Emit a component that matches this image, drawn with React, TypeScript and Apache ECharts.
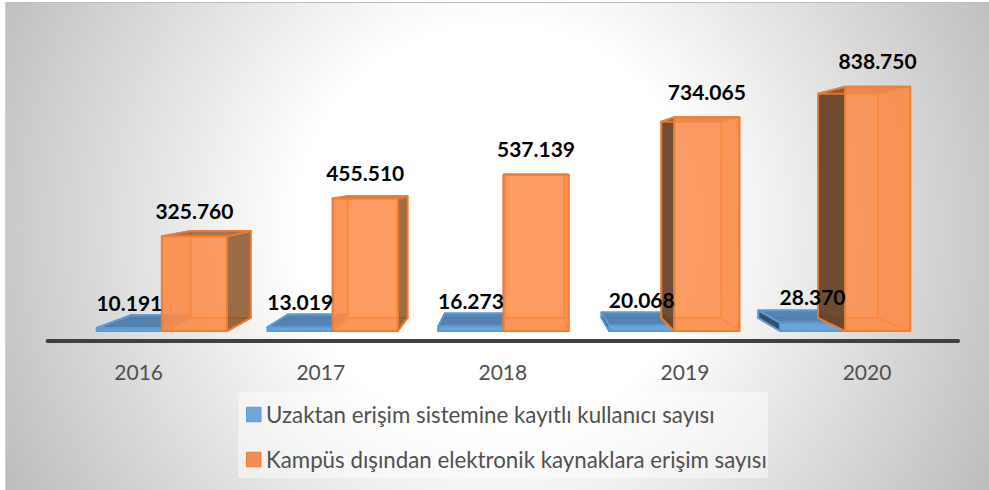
import React, { useEffect, useRef } from "react";
import * as echarts from "echarts";

const categories = ["2016", "2017", "2018", "2019", "2020"];
const remoteUsers = [10191, 13019, 16273, 20068, 28370];
const campusAccess = [325760, 455510, 537139, 734065, 838750];
const nameRemote = "Uzaktan erişim sistemine kayıtlı kullanıcı sayısı";
const nameCampus = "Kampüs dışından elektronik kaynaklara erişim sayısı";
const FONT = "Lato, Carlito, 'Noto Sans', sans-serif";

const VX = 516;
const VY = 172;
const DEPTH = 0.918;
const BAR_RATIO = 0.381;

const project = (p: number[]) => [VX + (p[0] - VX) * DEPTH, VY + (p[1] - VY) * DEPTH];
const fmt = (v: number) => String(v).replace(/\B(?=(\d{3})+$)/g, ".");

type Skin = { front: string; edge: string; back: string; leftWall: string; rightWall: string; top: string; bottom: string };
const orangeSkin: Skin = {
  front: "rgba(253,140,72,0.80)",
  edge: "rgba(237,125,49,0.88)",
  back: "rgba(250,128,50,0.30)",
  leftWall: "rgba(96,62,38,0.90)",
  rightWall: "rgba(130,78,38,0.78)",
  top: "rgba(150,88,44,0.78)",
  bottom: "rgba(237,125,49,0.50)",
};
const blueSkin: Skin = {
  front: "rgba(100,163,220,0.90)",
  edge: "rgba(91,155,213,1)",
  back: "rgba(91,155,213,0.4)",
  leftWall: "rgba(44,68,96,0.92)",
  rightWall: "rgba(70,110,150,0.85)",
  top: "rgba(78,125,170,0.92)",
  bottom: "rgba(91,155,213,0.5)",
};

const barGeom = (api: any, side: number) => {
  const base = api.coord([api.value(0), 0]);
  const top = api.coord([api.value(0), api.value(1)]);
  const w = api.size([1, 0])[0] * BAR_RATIO;
  const l = side < 0 ? base[0] - w : base[0];
  return { l, r: l + w, t: top[1], b: base[1] };
};

const boxItem = (skin: Skin, side: number) => (_p: any, api: any) => {
  const { l, r, t, b } = barGeom(api, side);
  const fl = [l, t], fr = [r, t], br = [r, b], bl = [l, b];
  const kl = project(fl), kr = project(fr), kbr = project(br), kbl = project(bl);
  const face = (pts: number[][], fill: string, w = 2) => ({
    type: "polygon",
    shape: { points: pts },
    style: { fill, stroke: skin.edge, lineWidth: w, lineJoin: "round" },
  });
  const children: any[] = [
    face([kl, kr, kbr, kbl], skin.back),
    face([bl, br, kbr, kbl], skin.bottom),
  ];
  if (l < kl[0]) children.push(face([fl, kl, kbl, bl], skin.bottom));
  if (l > kl[0]) children.push(face([kl, fl, bl, kbl], skin.leftWall));
  if (r > kr[0]) children.push(face([fr, kr, kbr, br], skin.bottom));
  if (r < kr[0]) children.push(face([fr, kr, kbr, br], skin.rightWall));
  children.push(face([fl, fr, kr, kl], skin.top));
  children.push(face([fl, fr, br, bl], skin.front));
  return { type: "group", children };
};

const labelItem = (side: number) => (_p: any, api: any) => {
  const { l, r, t } = barGeom(api, side);
  return {
    type: "text",
    style: {
      text: fmt(api.value(1)),
      x: (l + r) / 2,
      y: t - 26,
      align: "center",
      verticalAlign: "middle",
      font: `bold 21px ${FONT}`,
      fill: "#000000",
    },
  };
};

const toData = (vals: number[]) => vals.map((v, i) => [i, v]);

export default function App() {
  const ref = useRef<HTMLDivElement>(null);
  useEffect(() => {
    document.body.style.margin = "0";
    const chart = echarts.init(ref.current!, null, { renderer: "svg" });
    const common = { type: "custom", xAxisIndex: 1, yAxisIndex: 1, clip: false, silent: true };
    chart.setOption({
      animation: false,
      backgroundColor: "transparent",
      textStyle: { fontFamily: FONT },
      grid: [
        { left: 47.6, width: 910.5, top: 69, height: 272 },
        { left: 76.5, width: 854, top: 69, height: 262 },
      ],
      xAxis: [
        {
          type: "category",
          gridIndex: 0,
          data: categories,
          axisLine: { lineStyle: { color: "#404040", width: 4, cap: "round" } },
          axisTick: { show: false },
          axisLabel: { color: "#505050", fontSize: 21, margin: 20, fontFamily: FONT },
        },
        { type: "category", gridIndex: 1, data: categories, show: false },
      ],
      yAxis: [
        { type: "value", gridIndex: 0, min: 0, max: 900000, show: false, splitLine: { show: false } },
        { type: "value", gridIndex: 1, min: 0, max: 900000, show: false, splitLine: { show: false } },
      ],
      legend: {
        orient: "vertical",
        left: 246,
        top: 402.5,
        padding: 0,
        itemWidth: 14.5,
        itemHeight: 14.5,
        itemGap: 21,
        selectedMode: false,
        icon: "rect",
        textStyle: { color: "#505050", fontSize: 22.3, lineHeight: 24, fontFamily: FONT },
        data: [
          { name: nameRemote, itemStyle: { color: "#6fa5da", borderColor: "#5b9bd5", borderWidth: 1 } },
          { name: nameCampus, itemStyle: { color: "#f08e4f", borderColor: "#ed7d31", borderWidth: 1 } },
        ],
      },
      graphic: [
        {
          type: "rect",
          z: -5,
          silent: true,
          shape: { x: 238, y: 392, width: 530, height: 86 },
          style: { fill: "rgba(255,255,255,0.45)" },
        },
      ],
      series: [
        { ...common, name: nameRemote, data: toData(remoteUsers), renderItem: boxItem(blueSkin, -1), z: 2, itemStyle: { color: "#5b9bd5" } },
        { ...common, name: nameCampus, data: toData(campusAccess), renderItem: boxItem(orangeSkin, 1), z: 3, itemStyle: { color: "#ed7d31" } },
        { ...common, name: nameRemote, data: toData(remoteUsers), renderItem: labelItem(-1), z: 10 },
        { ...common, name: nameCampus, data: toData(campusAccess), renderItem: labelItem(1), z: 10 },
      ],
    });
    return () => chart.dispose();
  }, []);
  return (
    <div style={{ position: "relative", width: 989, height: 490, background: "#fff", overflow: "hidden" }}>
      <div
        style={{
          position: "absolute",
          left: 5,
          top: 2,
          width: 984,
          height: 488,
          boxSizing: "border-box",
          borderTop: "1px solid #bdbdbd",
          borderLeft: "1px solid #d0d0d0",
          background: "radial-gradient(circle 560px at 50% 46%, #ffffff 36%, #bcbcbc 100%)",
        }}
      />
      <div ref={ref} style={{ position: "absolute", left: 0, top: 0, width: 989, height: 490 }} />
    </div>
  );
}
